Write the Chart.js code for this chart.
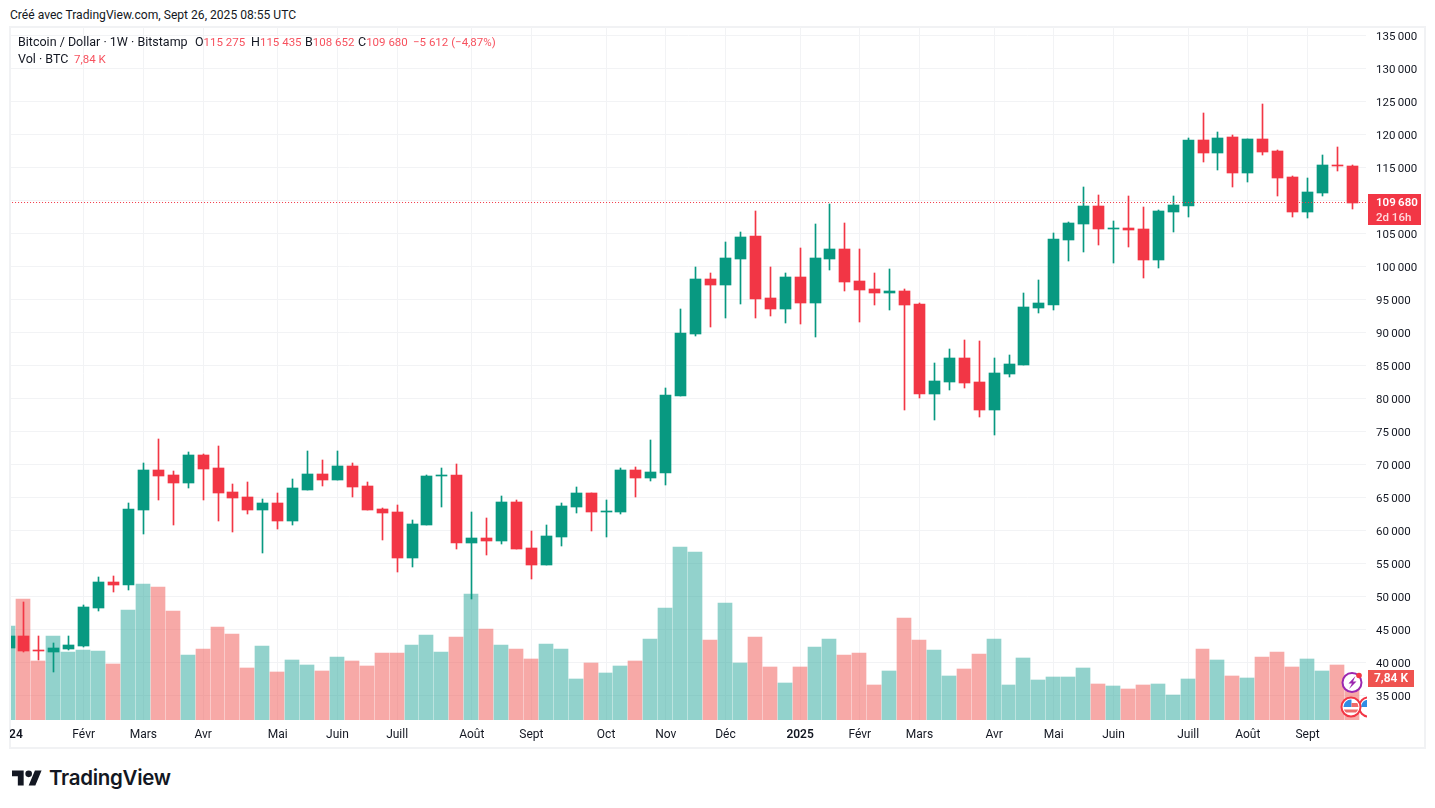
<!DOCTYPE html>
<html lang="fr">
<head>
<meta charset="utf-8">
<title>Bitcoin / Dollar</title>
<script src="https://cdn.jsdelivr.net/npm/chart.js@4"></script>
<style>
  html, body { margin: 0; padding: 0; background: #fff; }
  body { width: 1435px; height: 808px; position: relative; overflow: hidden; font-family: Roboto, sans-serif; color: #131722; }
  .frame { position: absolute; left: 9px; top: 26px; width: 1413px; height: 719px; border: 2px solid #f1f2f4; }
  #chart { position: absolute; left: 10px; top: 27px; }
  .txt { position: absolute; font-size: 12.5px; line-height: 14px; white-space: pre; }
  .val { font-size: 11.5px; }
  .red { color: #f7525f; }
  .icons { position: absolute; left: 1335px; top: 665px; }
  .logo { position: absolute; left: 12px; top: 770px; }
  .brand { position: absolute; left: 49px; top: 764px; font: 600 20.5px/28px Inter, sans-serif; letter-spacing: -0.3px; color: #131722; }
</style>
</head>
<body>
<div class="frame"></div>
<canvas id="chart" width="1414" height="720"></canvas>

<div class="txt" style="left:10px;top:8px;font-size:12.100px">Créé avec TradingView.com, Sept 26, 2025 08:55 UTC</div>
<div class="txt" style="left:18px;top:35px">Bitcoin / Dollar · 1W · Bitstamp</div>
<div class="txt" style="left:195px;top:35px">O<span class="red val">115 275</span></div>
<div class="txt" style="left:251px;top:35px">H<span class="red val">115 435</span></div>
<div class="txt" style="left:305px;top:35px">B<span class="red val">108 652</span></div>
<div class="txt" style="left:358px;top:35px">C<span class="red val">109 680</span></div>
<div class="txt red val" style="left:413px;top:35px">−5 612 (−4,87%)</div>
<div class="txt" style="left:18px;top:52px">Vol · BTC</div>
<div class="txt red val" style="left:74px;top:52px">7,84 K</div>

<svg class="icons" width="32" height="54" viewBox="1335 665 32 54">
  <defs>
    <clipPath id="flagA"><circle cx="1351" cy="707" r="7.500"/></clipPath>
    <clipPath id="flagB"><circle cx="1368.500" cy="707" r="7.500"/></clipPath>
  </defs>
  <circle cx="1368.500" cy="707" r="9.500" fill="#fff" stroke="#f23645" stroke-width="2"/>
  <rect x="1361" y="700" width="8" height="7" fill="#2f8de4" clip-path="url(#flagB)"/>
  <circle cx="1352" cy="682.500" r="9.500" fill="#fff" stroke="#9c27b0" stroke-width="2"/>
  <path d="M1355.500 676l-7 7.500h3.500l-3 5.500 7.500-7.500h-3.500z" fill="#9c27b0"/>
  <circle cx="1359" cy="675.500" r="2.800" fill="#f23645"/>
  <circle cx="1351" cy="707" r="9.500" fill="#fff" stroke="#f23645" stroke-width="2"/>
  <g clip-path="url(#flagA)">
    <rect x="1343" y="699" width="8.500" height="8" fill="#2f8de4"/>
    <rect x="1351.500" y="703" width="8" height="4" fill="#ef6a6a"/>
    <rect x="1343" y="709.500" width="16" height="3" fill="#ef6a6a"/>
  </g>
</svg>

<svg class="logo" width="30" height="16" viewBox="0 4 36 18">
  <path d="M14 22H7V11H0V4h14v18zM28 22h-8l7.500-18h8L28 22z" fill="#131722"/>
  <circle cx="20" cy="8" r="4" fill="#131722"/>
</svg>
<div class="brand">TradingView</div>

<script>
// weekly BTC/USD candles from Bitstamp, first week of 2024 to late Sept 2025
const opens = [42160, 43985, 41865, 41560, 42016, 42470, 48227, 52166, 51712, 63076, 69136, 68379, 67167, 71409, 69439, 65803, 65045, 63076, 64136, 61409, 66106, 68530, 67621, 69742, 66712, 63227, 62773, 55803, 60803, 68227, 68379, 58076, 58833, 58379, 64288, 57318, 54742, 58985, 63530, 65651, 62773, 62773, 69136, 67924, 68682, 80349, 89743, 98076, 97167, 101106, 104591, 95197, 93530, 98379, 94440, 101106, 102622, 97773, 96561, 95955, 96258, 94288, 80652, 82470, 86106, 82470, 78228, 83682, 85046, 93682, 94137, 103985, 106409, 109136, 105651, 105803, 105651, 100954, 108227, 109136, 119136, 117167, 119591, 114136, 119288, 117470, 113530, 108227, 111106, 115400, 115275];
const highs = [48200, 49136, 43985, 42924, 43985, 48682, 52924, 53076, 64136, 70197, 73833, 68985, 71864, 71500, 72773, 67015, 67318, 64742, 65651, 67773, 72015, 70651, 72015, 70197, 67318, 63379, 63833, 61561, 68379, 69439, 70045, 62773, 61864, 65197, 64591, 59894, 60803, 64136, 66560, 65651, 64591, 69439, 69591, 73682, 81561, 93530, 99894, 98985, 103682, 105197, 108379, 99894, 98985, 102773, 106410, 109440, 106561, 102622, 98985, 99591, 96561, 94440, 85349, 87470, 88834, 88682, 86106, 86561, 95955, 97925, 105046, 106712, 112015, 110803, 106864, 110651, 108985, 108530, 110651, 119439, 123227, 120348, 119894, 119288, 124591, 117621, 113682, 113379, 116864, 118076, 115435];
const lows = [40500, 41560, 40348, 38530, 41865, 42318, 47772, 50651, 50954, 59439, 64591, 60803, 66409, 64591, 61409, 59742, 62470, 56561, 60197, 60803, 66106, 66712, 67621, 65045, 63076, 58530, 53682, 54439, 60803, 63530, 57167, 49591, 56258, 57924, 57167, 52621, 54742, 57621, 62621, 59894, 58985, 62470, 65045, 67470, 66864, 80349, 89440, 90803, 92167, 94288, 92167, 92470, 91410, 91258, 89288, 99440, 96258, 91561, 94137, 93379, 78228, 80046, 76713, 81258, 81561, 77167, 74440, 83228, 85046, 92925, 93379, 100803, 102167, 103227, 100500, 102924, 98227, 99742, 105197, 107469, 115803, 114591, 112015, 112773, 116864, 110651, 107469, 107318, 110651, 114439, 108652];
const closes = [43990, 41712, 41712, 42166, 42621, 48379, 52166, 51712, 63227, 69136, 68227, 67167, 71409, 69288, 65651, 64894, 63076, 64136, 61409, 66409, 68530, 67621, 69742, 66560, 63076, 62621, 55803, 60954, 68227, 68379, 58076, 58833, 58379, 64288, 57167, 54742, 59136, 63682, 65651, 62773, 62924, 69136, 67924, 68833, 80500, 89894, 98076, 97167, 101258, 104440, 95046, 93530, 98379, 94440, 101258, 102622, 97622, 96410, 95955, 96258, 94137, 80652, 82622, 86106, 82319, 78228, 83834, 85197, 93834, 94440, 104137, 106561, 109136, 105651, 105803, 105500, 100954, 108379, 109288, 119136, 117167, 119439, 114136, 119288, 117318, 113379, 108227, 111258, 115348, 115275, 109680];
// volume in thousands of BTC
const volumes = [18.2, 23.42, 11.42, 16.26, 13.16, 13.55, 13.36, 10.84, 21.29, 26.33, 25.75, 21.1, 12.58, 13.74, 18, 16.65, 10.07, 14.32, 9.29, 11.61, 10.65, 9.49, 12.2, 11.42, 10.45, 12.97, 12.97, 14.52, 16.45, 13.16, 16.07, 24.39, 17.62, 14.52, 13.74, 11.81, 14.71, 13.74, 7.94, 11.03, 9.1, 10.45, 11.42, 15.68, 21.68, 33.49, 32.52, 15.49, 22.65, 11.03, 16.07, 10.26, 7.16, 10.26, 14.13, 15.68, 12.58, 12.97, 6.78, 9.49, 19.74, 15.49, 13.55, 8.52, 9.87, 12.78, 15.68, 6.78, 12, 7.74, 8.32, 8.32, 10.07, 6.97, 6.58, 6, 6.78, 6.97, 4.84, 7.94, 13.74, 11.61, 8.52, 8.13, 12.2, 13.16, 10.26, 11.81, 9.49, 10.65, 7.84];

const tickIndex = [0, 5, 9, 13, 18, 22, 26, 31, 35, 40, 44, 48, 53, 57, 61, 66, 70, 74, 79, 83, 87];
const tickLabels = ['2024', 'Févr', 'Mars', 'Avr', 'Mai', 'Juin', 'Juill', 'Août', 'Sept', 'Oct', 'Nov', 'Déc', '2025', 'Févr', 'Mars', 'Avr', 'Mai', 'Juin', 'Juill', 'Août', 'Sept'];
const yearTicks = [0, 53];
const priceTicks = [35000, 40000, 45000, 50000, 55000, 60000, 65000, 70000, 75000, 80000, 85000, 90000, 95000, 100000, 105000, 110000, 115000, 120000, 125000, 130000, 135000];

const UP = '#089981', DOWN = '#f23645';
const VOL_UP = 'rgba(38,166,154,0.5)', VOL_DOWN = 'rgba(239,83,80,0.5)';
const GRID = '#f2f3f5';
const FONT = 'Roboto, sans-serif';

const lastIdx = closes.length - 1;
const fmt = v => String(v).replace(/(\d)(?=(\d{3})+$)/g, '$1\u2009');
const isUp = i => closes[i] >= opens[i];

// pins bars to whole pixels so wicks stay crisp
const snapBars = {
  id: 'snapBars',
  afterDatasetsUpdate(chart) {
    chart.data.datasets.forEach((ds, d) => {
      if (ds.type === 'line') return;
      const bars = chart.getDatasetMeta(d).data;
      const cols = bars.map(b => Math.floor(b.x));
      bars.forEach((b, i) => {
        if (ds.label === 'Vol') {
          const left = cols[i] - 7;
          const right = i < lastIdx ? cols[i + 1] - 8 : cols[i] + 7;
          b.x = (left + right) / 2;
          b.width = right - left;
          b.y = Math.round(b.y);
        } else {
          b.x = cols[i] + 0.5;
          const top = Math.round(Math.min(b.y, b.base));
          const bottom = Math.round(Math.max(b.y, b.base));
          b.y = top;
          b.base = Math.max(bottom, top + 1);
        }
      });
    });
  }
};

// tags on the price axis for the last close and last volume
const axisTags = {
  id: 'axisTags',
  afterDraw(chart) {
    const c = chart.ctx, y = chart.scales.y, v = chart.scales.vol;
    const left = chart.chartArea.right + 2;
    const py = Math.round(y.getPixelForValue(closes[lastIdx]));
    const vy = Math.round(v.getPixelForValue(volumes[lastIdx]));
    c.save();
    c.textBaseline = 'middle';
    c.textAlign = 'left';
    c.fillStyle = DOWN;
    c.fillRect(left, py - 9, 53, 31);
    c.fillStyle = '#fff';
    c.font = '600 11.5px ' + FONT;
    c.fillText(fmt(closes[lastIdx]), left + 8, py);
    c.fillStyle = '#ffd9dc';
    c.font = '500 11.5px ' + FONT;
    c.fillText('2d 16h', left + 8, py + 15);
    c.fillStyle = '#ef5350';
    c.fillRect(left, vy - 9, 46, 17);
    c.fillStyle = '#fff';
    c.font = '600 12px ' + FONT;
    c.textAlign = 'center';
    c.fillText('7,84 K', left + 23, vy);
    c.restore();
  }
};

const bars = (label, data, color, width, order, axis) => ({
  label, data, order,
  yAxisID: axis,
  backgroundColor: color,
  grouped: false,
  barPercentage: 1,
  categoryPercentage: 1,
  maxBarThickness: width,
  clip: 0
});

new Chart(document.getElementById('chart'), {
  type: 'bar',
  data: {
    datasets: [
      {
        type: 'line',
        label: 'Last',
        data: [{ x: 0, y: closes[lastIdx] }, { x: 92, y: closes[lastIdx] }],
        borderColor: DOWN,
        borderWidth: 1,
        borderDash: [1, 2],
        pointRadius: 0,
        order: 0,
        yAxisID: 'y',
        clip: 0
      },
      bars('Body', opens.map((o, i) => ({ x: i, y: [o, closes[i]] })), opens.map((_, i) => isUp(i) ? UP : DOWN), 11, 1, 'y'),
      bars('Wick', highs.map((h, i) => ({ x: i, y: [lows[i], h] })), opens.map((_, i) => isUp(i) ? UP : DOWN), 1, 2, 'y'),
      bars('Vol', volumes.map((v, i) => ({ x: i, y: v })), opens.map((_, i) => isUp(i) ? VOL_UP : VOL_DOWN), 14, 3, 'vol')
    ]
  },
  options: {
    responsive: false,
    animation: false,
    devicePixelRatio: 1,
    layout: { padding: { left: 1, right: 0, top: 0, bottom: 0 } },
    plugins: { legend: { display: false }, tooltip: { enabled: false } },
    scales: {
      x: {
        type: 'linear',
        offset: false,
        min: 0.129,
        max: 90.917,
        border: { display: false },
        grid: { color: GRID, offset: false, drawTicks: false },
        afterBuildTicks(axis) { axis.ticks = tickIndex.map(value => ({ value })); },
        afterFit(axis) { axis.height = 27; axis.paddingLeft = 0; axis.paddingRight = 0; },
        ticks: {
          autoSkip: false,
          maxRotation: 0,
          padding: 8,
          color: '#131722',
          font: ctx => ({ family: FONT, size: 12, weight: yearTicks.includes(ctx.tick && ctx.tick.value) ? '600' : '400' }),
          callback: v => tickLabels[tickIndex.indexOf(v)]
        }
      },
      y: {
        position: 'right',
        min: 31272.7,
        max: 136272.7,
        border: { display: false },
        grid: { color: GRID, drawTicks: false },
        afterBuildTicks(axis) { axis.ticks = priceTicks.map(value => ({ value })); },
        afterFit(axis) { axis.width = 58; axis.paddingTop = 0; axis.paddingBottom = 0; },
        ticks: {
          padding: 10,
          labelOffset: 1.5,
          color: '#131722',
          font: { family: FONT, size: 11.5 },
          callback: v => fmt(v)
        }
      },
      vol: {
        display: false,
        min: 0,
        max: 134.15
      }
    }
  },
  plugins: [snapBars, axisTags]
});
</script>
</body>
</html>
